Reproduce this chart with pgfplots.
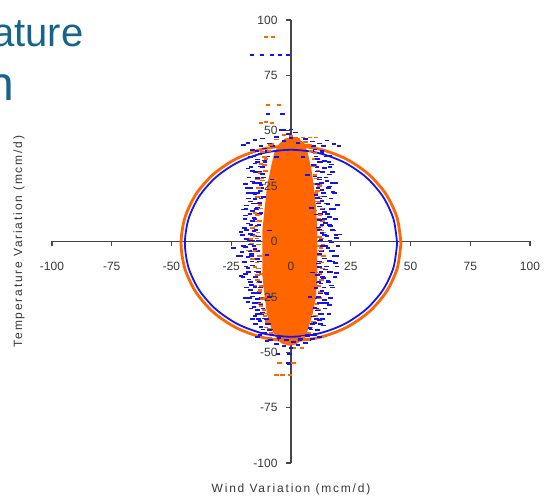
\documentclass[border=0pt]{standalone}
\usepackage{fontspec}
\setmainfont{Liberation Sans}
\usepackage{pgfplots}
\pgfplotsset{compat=1.18}
\definecolor{ttl}{RGB}{22,100,140}
\definecolor{ax}{RGB}{70,70,70}
\definecolor{bl}{RGB}{20,20,240}
\definecolor{orng}{RGB}{255,102,0}
\pgfplotsset{
  common/.style={
    at={(52pt,35pt)}, anchor=south west,
    width=478pt, height=443pt, scale only axis,
    xmin=-100, xmax=100, ymin=-100, ymax=100,
    axis lines=middle,
    xtick={-100,-75,-50,-25,0,25,50,75,100},
    ytick={-100,-75,-50,-25,0,25,50,75,100},
    hide obscured x ticks=false, hide obscured y ticks=false,
    tick align=outside,
    major tick length=5pt,
    clip=false,
  },
  bdash/.style={only marks, mark=-, mark size=2.3pt, bl, mark options={line width=1.7pt}},
  odash/.style={only marks, mark=-, mark size=2.3pt, orng, mark options={line width=1.7pt}},
}
\begin{document}
\begin{tikzpicture}
\begin{axis}[
  common,
  axis line style={-, draw=ax, line width=1.3pt},
  tick style={draw=ax, line width=1.2pt},
  xticklabels={}, yticklabels={},
  xlabel={Wind Variation (mcm/d)},
  ylabel={Temperature Variation (mcm/d)},
  every axis x label/.style={at={(axis description cs:0.5,-0.0598)}, anchor=center, font=\fontsize{12}{14}\selectfont\addfontfeatures{LetterSpace=15}, text=ax!80!black},
  every axis y label/.style={at={(axis description cs:-0.069,0.5)}, anchor=center, rotate=90, font=\fontsize{12}{14}\selectfont\addfontfeatures{LetterSpace=15}, text=ax!80!black},
]
% blue scatter (under the dense orange core)
\addplot[bdash] coordinates {
(-12.5,43.1) (-7.8,43.1) (9.3,43.1) (13.6,43.1)
(-14.2,40.7) (-10.1,40.7) (8.7,40.7) (12.9,40.7)
(-15.8,38.4) (-9.6,38.4) (10.4,38.4) (14.8,38.4)
(-13.9,36.0) (-10.8,36.0) (12.6,36.0) (15.9,36.0)
(-16.7,33.6) (-11.9,33.6) (10.8,33.6) (16.3,33.6)
(-14.8,31.3) (-12.9,31.3) (13.2,31.3) (17.4,31.3)
(-17.6,28.9) (-11.4,28.9) (11.9,28.9) (14.7,28.9)
(-15.3,26.5) (-13.2,26.5) (12.8,26.5) (17.1,26.5)
(-18.4,24.2) (-12.2,24.2) (11.3,24.2) (15.6,24.2)
(-16.2,21.8) (-14.1,21.8) (13.7,21.8) (18.2,21.8)
(-17.9,19.4) (-12.6,19.4) (12.1,19.4) (16.8,19.4)
(-15.7,17.1) (-13.8,17.1) (11.6,17.1) (14.9,17.1)
(-18.8,14.7) (-14.4,14.7) (13.3,14.7) (17.7,14.7)
(-17.1,12.3) (-13.1,12.3) (12.4,12.3) (15.2,12.3)
(-19.3,10.0) (-15.1,10.0) (14.1,10.0) (18.6,10.0)
(-16.8,7.6) (-13.4,7.6) (12.9,7.6) (16.1,7.6)
(-18.6,5.2) (-14.7,5.2) (11.8,5.2) (17.3,5.2)
(-20.2,2.9) (-16.1,2.9) (13.9,2.9) (18.9,2.9)
(-17.4,0.5) (-13.7,0.5) (12.2,0.5) (16.4,0.5)
(-19.8,-1.9) (-15.4,-1.9) (14.4,-1.9) (19.6,-1.9)
(-17.2,-4.2) (-13.9,-4.2) (12.7,-4.2) (16.9,-4.2)
(-20.9,-6.6) (-16.6,-6.6) (13.6,-6.6) (18.1,-6.6)
(-16.4,-9.0) (-13.2,-9.0) (11.9,-9.0) (17.6,-9.0)
(-18.9,-11.3) (-15.1,-11.3) (14.8,-11.3) (19.2,-11.3)
(-17.7,-13.7) (-13.6,-13.7) (12.5,-13.7) (16.2,-13.7)
(-20.1,-16.1) (-14.9,-16.1) (13.1,-16.1) (18.4,-16.1)
(-16.9,-18.4) (-13.3,-18.4) (11.4,-18.4) (15.8,-18.4)
(-18.6,-20.8) (-12.8,-20.8) (13.8,-20.8) (17.3,-20.8)
(-15.8,-23.2) (-14.2,-23.2) (12.3,-23.2) (14.9,-23.2)
(-17.3,-25.5) (-12.6,-25.5) (11.2,-25.5) (16.6,-25.5)
(-15.2,-27.9) (-13.7,-27.9) (13.4,-27.9) (15.1,-27.9)
(-16.8,-30.3) (-11.8,-30.3) (10.9,-30.3) (14.3,-30.3)
(-14.1,-32.6) (-12.3,-32.6) (12.2,-32.6) (15.9,-32.6)
(-13.6,-35.0) (-10.2,-35.0) (10.6,-35.0) (13.1,-35.0)
(-14.9,-37.4) (-9.4,-37.4) (9.1,-37.4) (12.4,-37.4)
(-11.8,-39.7) (-8.6,-39.7) (8.4,-39.7) (10.9,-39.7)
(-12.9,-42.1) (-6.9,-42.1) (6.8,-42.1) (9.9,-42.1)
(-8.7,-44.4) (-4.3,-44.4) (3.8,-44.4) (7.6,-44.4)
};
% dense orange core
\addplot[draw=none, fill=orng] coordinates {
(0,47) (3,46.5) (5.5,44.5) (7,40) (8.5,33) (9.5,25) (10.5,15) (11,5) (11,-5) (11,-15) (10.5,-25) (9,-33) (7,-40) (5,-44) (2,-46.5) (-1,-47) (-4,-46) (-6.5,-43) (-8,-40) (-10,-33) (-11,-25) (-12,-15) (-12,-5) (-12,5) (-11,15) (-10,25) (-8.5,33) (-7,40) (-5,44) (-2.5,46.5) (0,47)
};
% orange scatter
\addplot[odash] coordinates {
(-10.5,92.3) (-7.5,92.3) (-9.6,61.6) (-5,61.6) (-12.5,53.5) (-8,53.5) (-10.5,53.8) (2,47) (5,47) (8,47) (10.5,47)
(1,-48) (4.6,-48) (-4.8,-55) (1,-55) (-6,-60.3) (-3.5,-60.3) (-0.5,-60.3)
(-6,46) (-3,48) (0,47.5) (3,46.2) (6,45) (-8,44) (8,43.5) (-10,42.5) (-12,40.5) (10,40) (-11,38) (11,37.5)
(-12.5,35) (-13,31) (-12,27.5) (-13.5,24) (-14,20) (-13,16.5) (-15,13) (-14.5,9) (-16,6) (-15,2.5) (-16.5,-1) (-15.5,-4.5) (-16,-8) (-15,-11.5) (-14,-15) (-13.5,-18.5) (-13,-22) (-12,-26) (-12.5,-29) (-11,-32.5) (-10,-36) (-9,-39.5)
(9.5,34) (10,30) (9.5,26) (10.5,22) (11,18) (10,14) (11.5,10) (11,6) (12,2) (11,-2) (12,-6) (11.5,-10) (10.5,-14) (10,-18) (9.5,-22) (8.5,-26) (9,-30) (8,-33.5) (7,-37) (5.5,-40)
(-7,-42) (-4,-44.5) (-1,-46) (2,-45) (5,-43) (-9,-43.5) (7,-44.5)
(-17,1) (-18,-4) (13,5) (12.5,-3) (-14,28) (12,25) (-15,-20) (11,-25)
(-8.5,43.5) (6.1,43.5) (-9.2,41.0) (8.3,41.0) (-10.4,37.2) (9.6,37.2) (-11.2,34.5) (10.1,34.5) (-10.7,31.8) (11.3,31.8)
(-12.1,28.4) (10.6,28.4) (-11.6,25.7) (11.9,25.7) (-12.8,22.9) (11.2,22.9) (-12.2,20.3) (12.4,20.3) (-13.4,17.6) (11.7,17.6)
(-12.7,14.9) (12.9,14.9) (-14.1,12.1) (12.2,12.1) (-13.2,9.4) (13.1,9.4) (-14.6,6.8) (12.6,6.8) (-13.8,4.1) (13.5,4.1)
(-14.3,1.3) (12.8,1.3) (-13.6,-1.4) (13.4,-1.4) (-14.8,-4.0) (12.3,-4.0) (-13.1,-6.7) (13.6,-6.7) (-14.2,-9.5) (12.7,-9.5)
(-13.5,-12.2) (13.2,-12.2) (-12.6,-14.8) (12.1,-14.8) (-13.9,-17.5) (12.8,-17.5) (-12.4,-20.1) (11.6,-20.1) (-13.1,-22.8) (12.3,-22.8)
(-11.9,-25.4) (11.8,-25.4) (-12.7,-28.2) (10.9,-28.2) (-11.3,-30.9) (11.4,-30.9) (-10.8,-33.5) (10.2,-33.5) (-9.9,-36.3) (9.4,-36.3)
(-10.5,-38.8) (8.1,-38.8) (-8.4,-41.4) (7.3,-41.4) (-6.2,-43.8) (5.4,-43.8)
};
% blue scatter (outer)
\addplot[bdash] coordinates {
(-18,44.5) (-15,45.8) (-12,46.5) (-9,44.2) (-6,47.1) (-3,45.3) (0,46.8) (3,44.6) (6,46.2) (9,45.1) (12,44.3) (15,45.6) (18,44.0) (-20,43.5) (20,43.2) (-1,48.5) (2,49.2) (-4,50.3) (0,50.6)
(-16,41.2) (-13,39.5) (-11,42.0) (10,41.5) (13,40.1) (16,38.6) (-17,38.2) (11,37.4) (-14,37.0) (14,36.2)
(-15,35.2) (-13,33.8) (-16,31.9) (-12,30.5) (12,35.8) (14,33.1) (11,31.6) (16,30.2) (-18,33.0) (9.5,34.4) (17,34.7) (-11,36.6)
(-14,28.7) (-16,27.1) (-12.5,25.6) (-17,24.3) (-13,22.8) (-15,21.2) (-11.5,20.1) (10,29.4) (12,28.0) (15,27.3) (11,25.9) (16,24.8) (13,23.1) (17.5,22.5) (10.5,21.0) (14,20.3) (-19,26.0) (18.5,26.4) (-18,22.0)
(-15,19.2) (-17,18.1) (-13,17.4) (-18.5,16.2) (-14,15.3) (-16,13.9) (-12.5,12.8) (-19,11.7) (-15.5,10.6) (11,19.5) (13,18.4) (15.5,17.0) (12,15.8) (17,14.7) (14,13.4) (10.5,12.2) (16,11.1) (18.5,10.3) (-20,14.5) (19.5,16.6)
(-16,9.4) (-18,8.1) (-14,7.2) (-19.5,6.0) (-15.5,4.8) (-17,3.5) (-13.5,2.3) (-18.5,1.2) (-16,0.4) (12,9.6) (14.5,8.4) (16.5,7.1) (11.5,6.3) (18,5.0) (13,3.8) (15,2.6) (19,1.5) (12.5,0.7) (-21,4.2) (20.5,3.1) (17,-0.5)
(-17,-1.3) (-19,-2.6) (-15,-3.4) (-20.5,-4.7) (-16.5,-5.8) (-18,-7.1) (-14,-8.0) (-19.5,-9.2) (-22,-6.5) (-24,-3.0) (13,-1.9) (15.5,-3.0) (17.5,-4.3) (12,-5.5) (19,-6.6) (14,-7.7) (16,-8.9) (18.5,-9.8) (11.5,-10.0)
(-16,-10.8) (-18,-12.1) (-14.5,-13.5) (-19,-14.6) (-15,-16.0) (-17.5,-17.2) (-13,-18.3) (-16.5,-19.6) (-21,-15.5) (12,-11.4) (14.5,-12.6) (16.5,-13.9) (11,-15.2) (13.5,-16.5) (15.5,-17.7) (12.5,-19.0) (17,-19.8) (19,-14.2)
(-15,-20.7) (-17,-22.0) (-13.5,-23.4) (-16,-24.8) (-14,-26.1) (-18,-27.3) (-12.5,-28.5) (-15.5,-29.6) (10.5,-20.9) (13,-22.3) (15,-23.6) (11.5,-25.0) (14,-26.4) (12,-27.7) (16,-28.8) (10,-29.9) (-19,-25.5)
(-14,-30.8) (-12,-32.1) (-15,-33.5) (-11,-34.7) (-13,-36.0) (-10,-37.4) (-12.5,-38.6) (-9,-39.8) (11,-31.2) (13,-32.6) (9.5,-33.9) (12,-35.3) (10,-36.7) (13.5,-37.9) (8,-39.1) (11,-40.0) (-16,-35.0)
(-11,-41.2) (-8,-42.3) (-5,-43.5) (-2,-44.6) (1,-45.3) (4,-44.1) (7,-42.8) (10,-41.6) (-14,-43.0) (-10,-44.8) (-6,-46.2) (-3,-47.3) (0,-48.1) (3,-46.6) (6,-45.7) (9,-44.0) (12,-43.2) (-0.6,-50.8) (-5.4,-50.8) (-1.3,-55) (-0.6,-55.5)
(-16.3,84.2) (-12.1,84.2) (-8,84.2) (-4.6,84.2) (-1.3,84.2) (-9.6,57.6) (-3.5,57.6) (-3,50.3)
(-9,5) (-10,-6) (8.5,15) (9,-14) (-8,28) (7,30) (-9,-25) (8,-25) (5,38) (-6,38)
};
% orange circle
\addplot[orng, line width=2.8pt, smooth, no marks] coordinates {
(46,-0.8) (44.43,10.59) (39.84,21.2) (32.53,30.31) (23,37.3) (11.91,41.7) (0,43.2) (-11.91,41.7) (-23,37.3) (-32.53,30.31) (-39.84,21.2) (-44.43,10.59) (-46,-0.8) (-44.43,-12.19) (-39.84,-22.8) (-32.53,-31.91) (-23,-38.9) (-11.91,-43.3) (0,-44.8) (11.91,-43.3) (23,-38.9) (32.53,-31.91) (39.84,-22.8) (44.43,-12.19) (46,-0.8)
};
% blue circle
\addplot[bl, line width=1.8pt, smooth, no marks] coordinates {
(44.4,-0.8) (42.89,10.12) (38.45,20.3) (31.4,29.04) (22.2,35.75) (11.49,39.96) (0,41.4) (-11.49,39.96) (-22.2,35.75) (-31.4,29.04) (-38.45,20.3) (-42.89,10.12) (-44.4,-0.8) (-42.89,-11.72) (-38.45,-21.9) (-31.4,-30.64) (-22.2,-37.35) (-11.49,-41.56) (0,-43.0) (11.49,-41.56) (22.2,-37.35) (31.4,-30.64) (38.45,-21.9) (42.89,-11.72) (44.4,-0.8)
};
\end{axis}
% tick labels drawn on top of the data
\begin{axis}[
  common,
  axis line style={draw=none},
  tick style={draw=none},
  xticklabels={-100,-75,-50,-25,0,25,50,75,100},
  yticklabels={-100,-75,-50,-25,0,25,50,75,100},
  ticklabel style={font=\fontsize{12}{14}\selectfont, text=ax!80!black},
  xticklabel style={anchor=north, yshift=-12pt},
  yticklabel style={anchor=east, xshift=-5pt},
]
\end{axis}
\node[anchor=base east, text=ttl, font=\fontsize{40}{44}\selectfont, inner sep=0pt] at (83.5pt,451.3pt) {Temperature};
\node[anchor=base east, text=ttl, font=\fontsize{48}{52}\selectfont, inner sep=0pt] at (14.5pt,397pt) {Variation};
\pgfresetboundingbox
\path[use as bounding box] (0,0) rectangle (546pt,498pt);
\end{tikzpicture}
\end{document}
